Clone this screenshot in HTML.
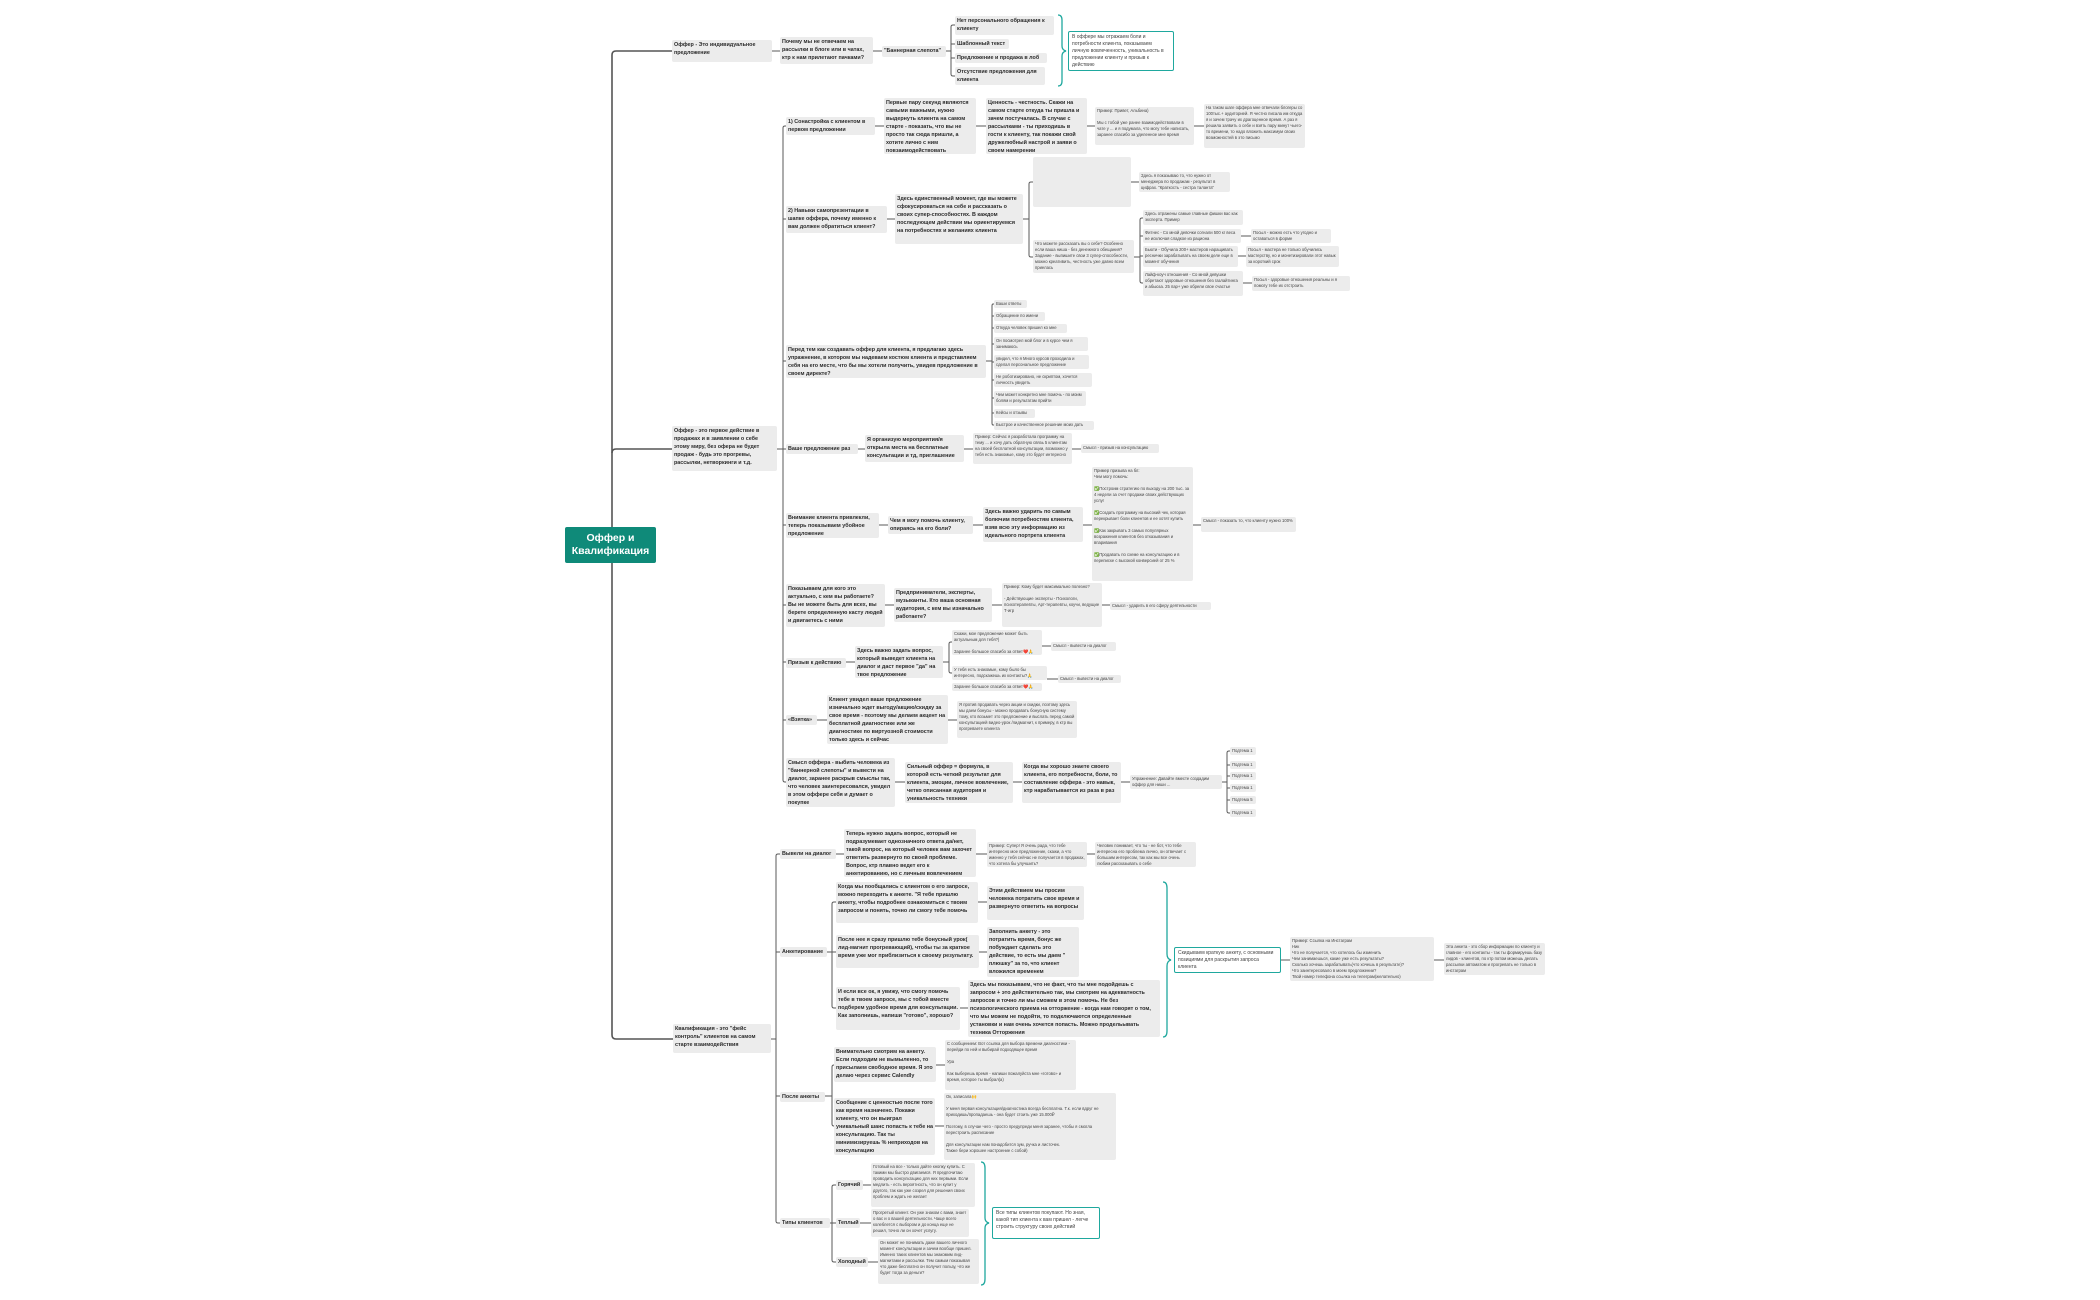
<!DOCTYPE html>
<html><head><meta charset="utf-8">
<style>
html,body{margin:0;padding:0;background:#fff;}
body{width:2100px;height:1300px;position:relative;overflow:hidden;font-family:"Liberation Sans","DejaVu Sans",sans-serif;}
.n,.s,.t{position:absolute;box-sizing:border-box;background:#ececec;border-radius:2px;color:#2b2b2b;overflow:hidden;}
.n{font-size:5.4px;line-height:8px;padding:1px 2px;font-weight:bold;}
.s{font-size:4.2px;line-height:6px;padding:1px 2px;color:#444;}
.t{background:#fff;border:1.5px solid #1fa89e;font-size:5px;line-height:7px;padding:2px 3px;color:#444;border-radius:2px;}
.w{white-space:nowrap;}
.root{position:absolute;left:565px;top:527px;width:91px;height:36px;background:#0f8a79;border-radius:2px;color:#fff;font-size:10.5px;font-weight:bold;line-height:13px;text-align:center;padding-top:5px;box-sizing:border-box;}
svg{position:absolute;left:0;top:0;}
</style></head><body>
<svg width="2100" height="1300" fill="none" stroke="#5a5a5a" stroke-width="1">
<g stroke-width="1.6" stroke="#555">
<path d="M612 527 V55 Q612 51 616 51 H672"/>
<path d="M612 563 V1035 Q612 1039 616 1039 H673"/>
<path d="M612 453 Q612 449 616 449 H672"/>
</g>
<path d="M772 51H780M873 51H882M946 51H951M955 25H953Q951 25 951 27V74Q951 76 953 76H955M951 44H955M951 58H955"/>
<path d="M777 449H783M786 126H785Q783 126 783 128V780Q783 782 785 782H786M783 219H786M783 361H786M783 449H786M783 525H786M783 605H786M783 662H786M783 720H786"/>
<path d="M875 126H884M976 126H986M1087 126H1095M1194 126H1204"/>
<path d="M887 219H895M1023 219H1029M1033 182H1031Q1029 182 1029 184V255Q1029 257 1031 257H1033M1131 182H1139M1134 257H1140M1143 218H1142Q1140 218 1140 220V281Q1140 283 1142 283H1143M1140 236H1143M1140 256H1143M1241 236H1251M1238 256H1246M1243 283H1252"/>
<path d="M986 361H992M994 304H993Q992 304 992 306V423Q992 425 993 425H994M992 316H994M992 328H994M992 344H994M992 362H994M992 380H994M992 398H994M992 413H994"/>
<path d="M858 449H865M964 449H973M1072 449H1081"/>
<path d="M879 525H888M973 525H983M1083 525H1092M1193 525H1201"/>
<path d="M885 605H894M992 605H1002M1102 605H1110"/>
<path d="M846 662H855M943 662H949M952 642H951Q949 642 949 644V671Q949 673 951 673H952M1042 646H1051M1047 679H1058"/>
<path d="M817 720H827M948 720H957"/>
<path d="M895 782H905M1013 782H1022M1121 782H1130M1222 782H1227M1230 751H1229Q1227 751 1227 753V811Q1227 813 1229 813H1230M1227 765H1230M1227 776H1230M1227 788H1230M1227 800H1230"/>
<path d="M771 1039H776M780 854H778Q776 854 776 856V1221Q776 1223 778 1223H780M776 952H780M776 1096H780"/>
<path d="M836 854H844M976 854H987M1087 854H1095"/>
<path d="M827 952H832M836 902H834Q832 902 832 904V1006Q832 1008 834 1008H836M832 952H836M978 902H987M979 952H987M960 1008H968M1281 960H1290M1434 960H1444"/>
<path d="M825 1096H832M834 1065Q832 1065 832 1067V1124Q832 1126 834 1126M936 1065H945M935 1126H944"/>
<path d="M830 1223H832M836 1185H834Q832 1185 832 1187V1260Q832 1262 834 1262H836M832 1223H836M863 1185H871M860 1223H871M868 1262H878"/>
<g stroke="#1fa89e" stroke-width="1.3">
<path d="M1058 15Q1062 15 1062 20V46Q1062 50 1066 51Q1062 52 1062 56V81Q1062 86 1058 86"/>
<path d="M1163 882Q1167 882 1167 888V954Q1167 959 1171 960Q1167 961 1167 966V1031Q1167 1037 1163 1037"/>
<path d="M981 1162Q985 1162 985 1168V1218Q985 1222 989 1223Q985 1224 985 1228V1279Q985 1285 981 1285"/>
</g>
</svg>

<div class="root">Оффер и<br>Квалификация</div>

<div class="n" style="left:672px;top:40px;width:100px;height:22px">Оффер - Это индивидуальное предложение</div>
<div class="n" style="left:780px;top:37px;width:93px;height:27px">Почему мы не отвечаем на рассылки в блоге или в чатах, ктр к нам прилетают пачками?</div>
<div class="n w" style="left:882px;top:46px;width:64px;height:11px">"Баннерная слепота"</div>
<div class="n" style="left:955px;top:16px;width:99px;height:19px">Нет персонального обращения к клиенту</div>
<div class="n w" style="left:955px;top:39px;width:54px;height:10px">Шаблонный текст</div>
<div class="n w" style="left:955px;top:53px;width:92px;height:10px">Предложение и продажа в лоб</div>
<div class="n" style="left:955px;top:67px;width:90px;height:18px">Отсутствие предложения для клиента</div>
<div class="t" style="left:1068px;top:31px;width:106px;height:40px">В оффере мы отражаем боли и потребности клиента, показываем личную вовлеченность, уникальность в предложении клиенту и призыв к действию</div>

<div class="n" style="left:672px;top:426px;width:105px;height:45px">Оффер - это первое действие в продажах и в заявлении о себе этому миру, без офера не будет продаж - будь это прогревы, рассылки, нетворкинги и т.д.</div>

<div class="n" style="left:786px;top:117px;width:89px;height:18px">1) Сонастройка с клиентом в первом предложении</div>
<div class="n" style="left:884px;top:98px;width:92px;height:56px">Первые пару секунд являются самыми важными, нужно выдернуть клиента на самом старте - показать, что вы не просто так сюда пришли, а хотите лично с ним повзаимодействовать</div>
<div class="n" style="left:986px;top:98px;width:101px;height:56px">Ценность - честность. Скажи на самом старте откуда ты пришла и зачем постучалась. В случае с рассылками - ты приходишь в гости к клиенту, так покажи свой дружелюбный настрой и заяви о своем намерении</div>
<div class="s" style="left:1095px;top:107px;width:99px;height:38px">Пример: Привет, Альбина)<br><br>Мы с тобой уже ранее взаимодействовали в чате у ... и я подумала, что могу тебе написать, заранее спасибо за уделенное мне время</div>
<div class="s" style="left:1204px;top:104px;width:101px;height:44px">На таком шаге оффера мне отвечали блогеры со 100тыс.+ аудиторией. Я честно писала им откуда я и зачем трачу их драгоценное время. А раз я решила заявить о себе и взять пару минут чьего-то времени, то надо вложить максимум своих возможностей в это письмо</div>

<div class="n" style="left:786px;top:206px;width:101px;height:27px">2) Навыки самопрезентации в шапке оффера, почему именно к вам должен обратиться клиент?</div>
<div class="n" style="left:895px;top:194px;width:128px;height:50px">Здесь единственный момент, где вы можете сфокусироваться на себе и рассказать о своих супер-способностях. В каждом последующем действии мы ориентируемся на потребностях и желаниях клиента</div>
<div class="s" style="left:1033px;top:157px;width:98px;height:50px"></div>
<div class="s" style="left:1139px;top:172px;width:91px;height:20px">Здесь я показываю то, что нужно от менеджера по продажам - результат в цифрах. "Краткость - сестра таланта"</div>
<div class="s" style="left:1033px;top:240px;width:101px;height:33px">Что можете рассказать вы о себе? Особенно если ваша ниша - без денежного обещания? Задание - выпишите свои 3 супер-способности, можно креативить, честность уже давно всем приелась</div>
<div class="s" style="left:1143px;top:210px;width:100px;height:15px">Здесь отражены самые главные фишки вас как эксперта. Пример</div>
<div class="s" style="left:1143px;top:229px;width:98px;height:14px">Фитнес - Со мной девочки согнали 500 кг веса не исключая сладкое из рациона</div>
<div class="s" style="left:1251px;top:229px;width:80px;height:14px">Посыл - можно есть что угодно и оставаться в форме</div>
<div class="s" style="left:1143px;top:246px;width:95px;height:21px">Бьюти - Обучила 200+ мастеров наращивать реснички зарабатывать на своем деле еще в момент обучения</div>
<div class="s" style="left:1246px;top:246px;width:93px;height:21px">Посыл - мастера не только обучились мастерству, но и монетизировали этот навык за короткий срок</div>
<div class="s" style="left:1143px;top:271px;width:100px;height:25px">Лайф-коуч отношения - Со мной девушки обретают здоровые отношения без газлайтинга и абьюза. 25 пар+ уже обрели свое счастье</div>
<div class="s" style="left:1252px;top:276px;width:98px;height:15px">Посыл - здоровые отношения реальны и я помогу тебе их отстроить</div>

<div class="n" style="left:786px;top:345px;width:200px;height:33px">Перед тем как создавать оффер для клиента, я предлагаю здесь упражнение, в котором мы надеваем костюм клиента и представляем себя на его месте, что бы мы хотели получить, увидев предложение в своем директе?</div>
<div class="s w" style="left:994px;top:300px;width:33px;height:8px">Ваши ответы</div>
<div class="s w" style="left:994px;top:312px;width:51px;height:9px">Обращение по имени</div>
<div class="s w" style="left:994px;top:324px;width:73px;height:9px">Откуда человек пришел ко мне</div>
<div class="s" style="left:994px;top:337px;width:94px;height:14px">Он посмотрел мой блог и в курсе чем я занимаюсь</div>
<div class="s" style="left:994px;top:355px;width:95px;height:14px">увидел, что я Много курсов проходила и сделал персональное предложение</div>
<div class="s" style="left:994px;top:373px;width:98px;height:14px">Не роботизировано, не скриптом, хочется личность увидеть</div>
<div class="s" style="left:994px;top:391px;width:92px;height:15px">Чем может конкретно мне помочь - по моим болям и результатам прийти</div>
<div class="s w" style="left:994px;top:409px;width:41px;height:9px">Кейсы и отзывы</div>
<div class="s w" style="left:994px;top:421px;width:100px;height:9px">Быстрое и качественное решение моих дать</div>

<div class="n w" style="left:786px;top:444px;width:72px;height:10px">Ваше предложение раз</div>
<div class="n" style="left:865px;top:435px;width:99px;height:27px">Я организую мероприятия/я открыла места на бесплатные консультации и тд, приглашение</div>
<div class="s" style="left:973px;top:433px;width:99px;height:31px">Пример: Сейчас я разработала программу на тему ... и хочу дать обратную связь 5 клиентам на своей бесплатной консультации, возможно у тебя есть знакомые, кому это будет интересно</div>
<div class="s w" style="left:1081px;top:444px;width:78px;height:9px">Смысл - призыв на консультацию</div>

<div class="n" style="left:786px;top:513px;width:93px;height:25px">Внимание клиента привлекли, теперь показываем убойное предложение</div>
<div class="n" style="left:888px;top:516px;width:85px;height:18px">Чем я могу помочь клиенту, опираясь на его боли?</div>
<div class="n" style="left:983px;top:507px;width:100px;height:35px">Здесь важно ударить по самым болючим потребностям клиента, взяв всю эту информацию из идеального портрета клиента</div>
<div class="s" style="left:1092px;top:467px;width:101px;height:114px">Пример призыва на бл:<br>Чем могу помочь:<br><br>✅Построим стратегию по выходу на 200 тыс. за 4 недели за счет продажи своих действующих услуг<br><br>✅Создать программу на высокий чек, которая перекрывает боли клиентов и ее хотят купить<br><br>✅Как закрывать 3 самых популярных возражения клиентов без отказывания и впаривания<br><br>✅Продавать по схеме на консультацию и в переписке с высокой конверсией от 25 %</div>
<div class="s" style="left:1201px;top:517px;width:95px;height:15px">Смысл - показать то, что клиенту нужно 100%</div>

<div class="n" style="left:786px;top:584px;width:99px;height:43px">Показываем для кого это актуально, с кем вы работаете? Вы не можете быть для всех, вы берете определенную касту людей и двигаетесь с ними</div>
<div class="n" style="left:894px;top:588px;width:98px;height:34px">Предприниматели, эксперты, музыканты. Кто ваша основная аудитория, с кем вы изначально работаете?</div>
<div class="s" style="left:1002px;top:583px;width:100px;height:44px">Пример: Кому будет максимально полезно?<br><br>- Действующие эксперты - Психологи, психотерапевты, Арт-терапевты, коучи, ведущие Т-игр</div>
<div class="s w" style="left:1110px;top:602px;width:101px;height:8px">Смысл - ударить в его сферу деятельности</div>

<div class="n w" style="left:786px;top:658px;width:60px;height:10px">Призыв к действию</div>
<div class="n" style="left:855px;top:646px;width:88px;height:32px">Здесь важно задать вопрос, который выведет клиента на диалог и даст первое "да" на твое предложение</div>
<div class="s" style="left:952px;top:630px;width:90px;height:25px">Скажи, мое предложение может быть актуальным для тебя?)<br><br>Заранее большое спасибо за ответ❤️🙏</div>
<div class="s w" style="left:1051px;top:642px;width:65px;height:9px">Смысл - вывести на диалог</div>
<div class="s" style="left:952px;top:666px;width:95px;height:14px">У тебя есть знакомые, кому было бы интересно, подскажешь их контакты?🙏</div>
<div class="s w" style="left:1058px;top:675px;width:63px;height:8px">Смысл - вывести на диалог</div>
<div class="s w" style="left:952px;top:683px;width:90px;height:8px">Заранее большое спасибо за ответ❤️🙏</div>

<div class="n w" style="left:786px;top:715px;width:31px;height:10px">«Взятка»</div>
<div class="n" style="left:827px;top:695px;width:121px;height:49px">Клиент увидел ваше предложение изначально ждет выгоду/акцию/скидку за свое время - поэтому мы делаем акцент на бесплатной диагностике или же диагностике по виртуозной стоимости только здесь и сейчас</div>
<div class="s" style="left:957px;top:701px;width:120px;height:37px">Я против продавать через акции и скидки, поэтому здесь мы даем бонусы - можно продавать бонусную систему тому, кто возьмет это предложение и выслать перед самой консультацией видео-урок /лидмагнит, к примеру, в ктр вы прогреваете клиента</div>

<div class="n" style="left:786px;top:758px;width:109px;height:49px">Смысл оффера - выбить человека из "баннерной слепоты" и вывести на диалог, заранее раскрыв смыслы так, что человек заинтересовался, увидел в этом оффере себя и думает о покупке</div>
<div class="n" style="left:905px;top:762px;width:108px;height:41px">Сильный оффер = формула, в которой есть четкий результат для клиента, эмоции, личное вовлечение, четко описанная аудитория и уникальность техники</div>
<div class="n" style="left:1022px;top:762px;width:99px;height:41px">Когда вы хорошо знаете своего клиента, его потребности, боли, то составление оффера - это навык, ктр нарабатывается из раза в раз</div>
<div class="s" style="left:1130px;top:775px;width:92px;height:14px">Упражнение: Давайте вместе создадим оффер для ниши ...</div>
<div class="s w" style="left:1230px;top:747px;width:26px;height:8px">Подтема 1</div>
<div class="s w" style="left:1230px;top:761px;width:26px;height:8px">Подтема 1</div>
<div class="s w" style="left:1230px;top:772px;width:26px;height:8px">Подтема 1</div>
<div class="s w" style="left:1230px;top:784px;width:26px;height:8px">Подтема 1</div>
<div class="s w" style="left:1230px;top:796px;width:26px;height:8px">Подтема 5</div>
<div class="s w" style="left:1230px;top:809px;width:26px;height:8px">Подтема 1</div>

<div class="n" style="left:673px;top:1024px;width:98px;height:29px">Квалификация - это "фейс контроль" клиентов на самом старте взаимодействия</div>

<div class="n w" style="left:780px;top:849px;width:56px;height:10px">Вывели на диалог</div>
<div class="n" style="left:844px;top:829px;width:132px;height:48px">Теперь нужно задать вопрос, который не подразумевает однозначного ответа да/нет, такой вопрос, на который человек вам захочет ответить развернуто по своей проблеме. Вопрос, ктр плавно ведет его к анкетированию, но с личным вовлечением</div>
<div class="s" style="left:987px;top:842px;width:100px;height:25px">Пример: Супер! Я очень рада, что тебе интересно мое предложение, скажи, а что именно у тебя сейчас не получается в продажах, что хотела бы улучшить?</div>
<div class="s" style="left:1095px;top:842px;width:101px;height:25px">Человек понимает, что ты - не бот, что тебе интересна его проблема лично, он отвечает с большим интересом, так как мы все очень любим рассказывать о себе</div>

<div class="n w" style="left:780px;top:947px;width:47px;height:10px">Анкетирование</div>
<div class="n" style="left:836px;top:882px;width:142px;height:41px">Когда мы пообщались с клиентом о его запросе, можно переходить к анкете. "Я тебе пришлю анкету, чтобы подробнее ознакомиться с твоим запросом и понять, точно ли смогу тебе помочь</div>
<div class="n" style="left:987px;top:886px;width:97px;height:34px">Этим действием мы просим человека потратить свое время и развернуто ответить на вопросы</div>
<div class="n" style="left:836px;top:935px;width:143px;height:33px">После нее я сразу пришлю тебе бонусный урок( лид-магнит прогревающий), чтобы ты за краткое время уже мог приблизиться к своему результату.</div>
<div class="n" style="left:987px;top:927px;width:92px;height:50px">Заполнить анкету - это потратить время, бонус же побуждает сделать это действие, то есть мы даем " плюшку" за то, что клиент вложился временем</div>
<div class="n" style="left:836px;top:987px;width:124px;height:43px">И если все ок, я увижу, что смогу помочь тебе в твоем запросе, мы с тобой вместе подберем удобное время для консультации. Как заполнишь, напиши "готово", хорошо?</div>
<div class="n" style="left:968px;top:980px;width:192px;height:57px">Здесь мы показываем, что не факт, что ты мне подойдешь с запросом + это действительно так, мы смотрим на адекватность запросов и точно ли мы сможем в этом помочь. Не без психологического приема на отторжение - когда нам говорят о том, что мы можем не подойти, то подключаются определенные установки и нам очень хочется попасть. Можно продельывать техника Отторжения</div>
<div class="t" style="left:1174px;top:947px;width:107px;height:26px">Скидываем краткую анкету, с основными позициями для раскрытия запроса клиента</div>
<div class="s" style="left:1290px;top:937px;width:144px;height:44px">Пример: Ссылка на Инстаграм<br>Ник<br>Что не получается, что хотелось бы изменить<br>Чем занимаешься, какие уже есть результаты?<br>Сколько хочешь зарабатывать(что хочешь в результате)?<br>Что заинтересовало в моем предложении?<br>Твой номер телефона ссылка на телеграм(желательно)</div>
<div class="s" style="left:1444px;top:943px;width:101px;height:32px">Эта анкета - это сбор информации по клиенту и главное - его контакты - так ты формируешь базу лидов - клиентов, по ктр потом можешь делать рассылки автоматом и прогревать не только в инстаграм</div>

<div class="n w" style="left:780px;top:1092px;width:45px;height:10px">После анкеты</div>
<div class="n" style="left:834px;top:1047px;width:102px;height:35px">Внимательно смотрим на анкету. Если подходим не вымыленно, то присылаем свободное время. Я это делаю через сервис Calendly</div>
<div class="s" style="left:945px;top:1040px;width:131px;height:50px">С сообщением: Вот ссылка для выбора времени диагностики - перейди по ней и выбирай подходящее время<br><br>Ура<br><br>Как выберешь время - напиши пожалуйста мне «готово» и время, которое ты выбрал(а)</div>
<div class="n" style="left:834px;top:1098px;width:101px;height:57px">Сообщение с ценностью после того как время назначено. Покажи клиенту, что он выиграл уникальный шанс попасть к тебе на консультацию. Так ты минимизируешь % неприходов на консультацию</div>
<div class="s" style="left:944px;top:1093px;width:172px;height:67px">Ок, записала🙌<br><br>У меня первая консультация/диагностика всегда бесплатна. Т.к. если вдруг не приходишь/пропадаешь - она будет стоить уже 15.000₽<br><br>Поэтому, в случае чего - просто предупреди меня заранее, чтобы я смогла перестроить расписание<br><br>Для консультации нам понадобится зум, ручка и листочек.<br>Также бери хорошее настроение с собой)</div>

<div class="n w" style="left:780px;top:1218px;width:50px;height:10px">Типы клиентов</div>
<div class="n w" style="left:836px;top:1180px;width:27px;height:10px">Горячий</div>
<div class="s" style="left:871px;top:1163px;width:104px;height:44px">Готовый на все - только дайте кнопку купить. С такими мы быстро двигаемся. Я предпочитаю проводить консультацию для них первыми. Если медлить - есть вероятность, что он купит у другого, так как уже созрел для решения своих проблем и ждать не желает</div>
<div class="n w" style="left:836px;top:1218px;width:24px;height:10px">Теплый</div>
<div class="s" style="left:871px;top:1209px;width:98px;height:28px">Прогретый клиент. Он уже знаком с вами, знает о вас и о вашей деятельности. Чаще всего колеблется с выбором и до конца еще не решил, точно ли он хочет услугу.</div>
<div class="n w" style="left:836px;top:1257px;width:32px;height:10px">Холодный</div>
<div class="s" style="left:878px;top:1239px;width:101px;height:45px">Он может не понимать даже вашего личного момент консультации и зачем вообще пришел. Именно таких клиентов мы знакомим лид-магнитами и рассылки. Тем самым показывая что даже бесплатно он получит пользу, что же будет тогда за деньги?</div>
<div class="t" style="left:992px;top:1207px;width:108px;height:32px">Все типы клиентов покупают. Но зная, какой тип клиента к вам пришел - легче строить структуру своих действий</div>
</body></html>
